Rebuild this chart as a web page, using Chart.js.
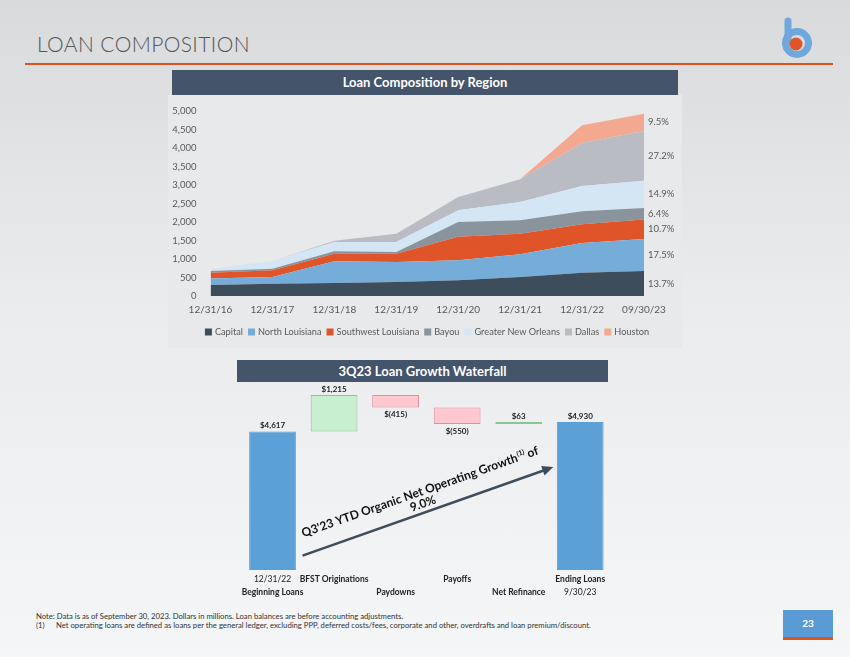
<!DOCTYPE html>
<html>
<head>
<meta charset="utf-8">
<script src="https://cdn.jsdelivr.net/npm/chart.js@4.4.0/dist/chart.umd.min.js"></script>
<style>
  body { margin:0; width:850px; height:657px; overflow:hidden; position:relative;
         background: linear-gradient(#d9dadb, #e9ebec 45%, #f4f6f8); font-family: Lato, sans-serif; }
  .abs { position:absolute; }
  #title { left:37px; top:31px; font-size:21px; font-weight:300; color:#555; letter-spacing:0.4px; }
  #rule { left:25px; top:63px; width:808px; height:2px; background:#d9541e; }
  .hdr { background:#44546a; color:#fff; font-weight:bold; font-size:13px; text-align:center; }
  #hdr1 { left:172px; top:70px; width:506px; height:25px; line-height:25px; }
  #panel1 { left:168px; top:95px; width:514px; height:253px; background:#e8e9ea; }
  #c1wrap { left:172px; top:95px; width:506px; height:250px; }
  #hdr2 { left:237px; top:360px; width:371px; height:22px; line-height:22px; }
  #c2wrap { left:237px; top:380px; width:378px; height:220px; }
  #notes { left:36px; top:612px; font-size:7.7px; color:#333; line-height:8.5px; white-space:nowrap; }
  #notes span { display:inline-block; width:20px; }
  #pg { left:783px; top:610px; width:50px; height:27px; background:#5b9bd5; border-bottom:3px solid #d9541e;
        color:#fff; font-weight:bold; font-size:10px; text-align:center; line-height:27px; }
</style>
</head>
<body>
<div id="title" class="abs">LOAN COMPOSITION</div>
<div id="rule" class="abs"></div>
<svg class="abs" style="left:770px;top:12px" width="50" height="52">
  <line x1="18" y1="9" x2="18" y2="30" stroke="#6fa8dc" stroke-width="7" stroke-linecap="round"/>
  <circle cx="27" cy="31" r="11.5" fill="none" stroke="#6fa8dc" stroke-width="7"/>
  <circle cx="26" cy="32" r="6.5" fill="#e0542a"/>
</svg>
<div id="hdr1" class="abs hdr">Loan Composition by Region</div>
<div id="panel1" class="abs"></div>
<div id="c1wrap" class="abs"><canvas id="areaChart"></canvas></div>
<div id="hdr2" class="abs hdr">3Q23 Loan Growth Waterfall</div>
<div id="c2wrap" class="abs"><canvas id="wfChart"></canvas></div>
<div id="notes" class="abs">Note: Data is as of September 30, 2023. Dollars in millions. Loan balances are before accounting adjustments.<br><span>(1)</span>Net operating loans are defined as loans per the general ledger, excluding PPP, deferred costs/fees, corporate and other, overdrafts and loan premium/discount.</div>
<div id="pg" class="abs">23</div>

<script>
// fechas del eje x
const fechas = ['12/31/16', '12/31/17', '12/31/18', '12/31/19', '12/31/20', '12/31/21', '12/31/22', '09/30/23'];

// saldos por region (millones)
const capital = [300, 333, 351, 378, 423, 514, 631, 675];
const northLouisiana = [170, 180, 586, 541, 541, 612, 801, 863];
const southwestLouisiana = [160, 181, 207, 225, 640, 559, 505, 527];
const bayou = [45, 45, 63, 46, 396, 360, 351, 316];
const greaterNewOrleans = [45, 207, 252, 269, 315, 496, 685, 735];
const dallas = [0, 0, 36, 226, 361, 612, 1162, 1341];
const houston = [0, 0, 0, 0, 0, 0, 478, 468];

const regiones = ['Capital', 'North Louisiana', 'Southwest Louisiana', 'Bayou', 'Greater New Orleans', 'Dallas', 'Houston'];
const porcentajes = ['13.7%', '17.5%', '10.7%', '6.4%', '14.9%', '27.2%', '9.5%'];
const yTicks = [0, 500, 1000, 1500, 2000, 2500, 3000, 3500, 4000, 4500, 5000];

// cascada 3Q23
const wfLinea1 = ['12/31/22', 'BFST Originations', '', 'Payoffs', '', 'Ending Loans'];
const wfLinea2 = ['Beginning Loans', '', 'Paydowns', '', 'Net Refinance', '9/30/23'];
const wfValores = [4617, 1215, -415, -550, 63, 4930];
const wfTextos = ['$4,617', '$1,215', '$(415)', '$(550)', '$63', '$4,930'];

const colores = ['#3e4d5c', '#76acd8', '#e0542a', '#8a949d', '#d4e5f3', '#b9bdc3', '#f3a98f'];
const tickColor = '#595959';

//Etiquetas de porcentaje a la derecha del area
const pctPlugin = {
    id: 'pctPlugin',
    afterDatasetsDraw(chart) {
        const ctx = chart.ctx;
        const y = chart.scales.y;
        const last = fechas.length - 1;
        let base = 0;
        ctx.save();
        ctx.font = '9.5px Lato';
        ctx.fillStyle = tickColor;
        ctx.textBaseline = 'middle';
        chart.data.datasets.forEach((ds, i) => {
            const v = ds.data[last];
            const mid = y.getPixelForValue(base + v / 2);
            ctx.fillText(porcentajes[i], chart.chartArea.right + 4, mid);
            base += v;
        });
        ctx.restore();
    }
};

//Leyenda propia, centrada en todo el panel
const leyendaPlugin = {
    id: 'leyendaPlugin',
    afterDraw(chart) {
        const ctx = chart.ctx;
        const caja = 7, gap = 3, sep = 5;
        ctx.save();
        ctx.font = '9.2px Lato';
        const anchos = chart.data.datasets.map(ds => caja + gap + ctx.measureText(ds.label).width);
        const total = anchos.reduce((a, b) => a + b, 0) + sep * (anchos.length - 1);
        let x = chart.width / 2 + 2 - total / 2;
        const y = chart.height - 13;
        ctx.textBaseline = 'middle';
        chart.data.datasets.forEach((ds, i) => {
            ctx.fillStyle = ds.backgroundColor;
            ctx.fillRect(x, y - caja / 2, caja, caja);
            ctx.fillStyle = tickColor;
            ctx.fillText(ds.label, x + caja + gap, y + 0.5);
            x += anchos[i] + sep;
        });
        ctx.restore();
    }
};

const series = [capital, northLouisiana, southwestLouisiana, bayou, greaterNewOrleans, dallas, houston];

new Chart(document.getElementById('areaChart'), {
    type: 'line',
    data: {
        labels: fechas,
        datasets: series.map((d, i) => ({
            label: regiones[i],
            data: d,
            backgroundColor: colores[i],
            borderColor: colores[i],
            borderWidth: 0,
            pointRadius: 0,
            fill: i === 0 ? 'origin' : '-1',
            tension: 0
        }))
    },
    options: {
        responsive: true,
        maintainAspectRatio: false,
        animation: false,
        layout: { padding: { left: 0, right: 34, top: 16, bottom: 27 } },
        plugins: {
            tooltip: { enabled: false },
            legend: { display: false }
        },
        scales: {
            x: {
                offset: false,
                grid: { display: false, drawTicks: false },
                border: { display: false },
                afterFit(scale) { scale.height = 22; },
                ticks: { color: tickColor, font: { family: 'Lato', size: 10 }, maxRotation: 0, padding: 8 }
            },
            y: {
                stacked: true,
                min: 0,
                max: 5000,
                grid: { display: false },
                border: { display: false },
                afterFit(scale) { scale.width = 38.5; },
                afterBuildTicks(scale) { scale.ticks = yTicks.map(v => ({ value: v })); },
                ticks: {
                    color: tickColor,
                    font: { family: 'Lato', size: 9.5 },
                    padding: 6,
                    callback: v => v.toLocaleString('en-US')
                }
            }
        }
    },
    plugins: [pctPlugin, leyendaPlugin]
});

//Se construyen los rangos flotantes de la cascada
const wfRangos = [];
let acumulado = 0;
wfValores.forEach((v, i) => {
    if (i === 0 || i === wfValores.length - 1) {
        wfRangos.push([0, v]);
        acumulado = v;
    } else {
        wfRangos.push([acumulado, acumulado + v]);
        acumulado += v;
    }
});
const esTotal = i => i === 0 || i === wfValores.length - 1;
const wfFondo = wfValores.map((v, i) => esTotal(i) ? '#5ba0d7' : (v > 0 ? '#c8efcf' : '#ffc8ce'));
const wfBorde = wfValores.map((v, i) => esTotal(i) ? '#5ba0d7' : (v > 0 ? '#86c793' : '#dc9098'));

const wfPlugin = {
    id: 'wfPlugin',
    afterDatasetsDraw(chart) {
        const ctx = chart.ctx;
        const xs = chart.scales.x;
        const ys = chart.scales.y;
        const bottom = chart.chartArea.bottom;
        ctx.save();
        ctx.fillStyle = '#222';
        ctx.textAlign = 'center';

        // valores sobre / bajo las barras
        ctx.font = 'bold 8px Lato';
        wfRangos.forEach((r, i) => {
            const x = xs.getPixelForValue(i);
            if (wfValores[i] >= 0) {
                ctx.textBaseline = 'bottom';
                ctx.fillText(wfTextos[i], x, ys.getPixelForValue(Math.max(r[0], r[1])) - 2);
            } else {
                ctx.textBaseline = 'top';
                ctx.fillText(wfTextos[i], x, ys.getPixelForValue(Math.min(r[0], r[1])) + 3);
            }
        });

        // etiquetas de categoria en dos lineas
        ctx.textBaseline = 'middle';
        wfLinea1.forEach((t, i) => {
            const x = xs.getPixelForValue(i);
            ctx.font = (/^\d/.test(t) ? '' : 'bold ') + '8.5px Lato';
            ctx.fillText(t, x, bottom + 9);
            const t2 = wfLinea2[i];
            ctx.font = (/^\d/.test(t2) ? '' : 'bold ') + '8.5px Lato';
            ctx.fillText(t2, x, bottom + 22);
        });

        // flecha de crecimiento
        const x0 = xs.getPixelForValue(0) + 30, y0 = ys.getPixelForValue(480);
        const x1 = xs.getPixelForValue(wfValores.length - 1) - 27, y1 = ys.getPixelForValue(3430);
        const ang = Math.atan2(y1 - y0, x1 - x0);
        ctx.strokeStyle = '#3e4d5c';
        ctx.fillStyle = '#3e4d5c';
        ctx.lineWidth = 2.5;
        ctx.beginPath();
        ctx.moveTo(x0, y0);
        ctx.lineTo(x1 - 8 * Math.cos(ang), y1 - 8 * Math.sin(ang));
        ctx.stroke();
        ctx.translate(x1, y1);
        ctx.rotate(ang);
        ctx.beginPath();
        ctx.moveTo(0, 0);
        ctx.lineTo(-11, -5);
        ctx.lineTo(-11, 5);
        ctx.closePath();
        ctx.fill();
        ctx.setTransform(1, 0, 0, 1, 0, 0);
        ctx.scale(chart.currentDevicePixelRatio, chart.currentDevicePixelRatio);

        // texto rotado
        ctx.translate((x0 + x1) / 2, (y0 + y1) / 2);
        ctx.rotate(ang);
        ctx.fillStyle = '#111';
        ctx.textBaseline = 'alphabetic';
        const p1 = "Q3'23 YTD Organic Net Operating Growth", sup = '(1)', p2 = ' of';
        ctx.font = 'bold 12px Lato';
        const w1 = ctx.measureText(p1).width, w3 = ctx.measureText(p2).width;
        ctx.font = 'bold 7px Lato';
        const w2 = ctx.measureText(sup).width;
        let sx = -1 - (w1 + w2 + w3) / 2;
        ctx.textAlign = 'left';
        ctx.font = 'bold 12px Lato';
        ctx.fillText(p1, sx, -17);
        ctx.font = 'bold 7px Lato';
        ctx.fillText(sup, sx + w1 + 0.5, -22);
        ctx.font = 'bold 12px Lato';
        ctx.fillText(p2, sx + w1 + w2, -17);
        ctx.textAlign = 'center';
        ctx.fillText('9.0%', -2, -5);
        ctx.restore();
    }
};

new Chart(document.getElementById('wfChart'), {
    type: 'bar',
    data: {
        labels: wfLinea1.map((t, i) => t + ' ' + wfLinea2[i]),
        datasets: [{
            data: wfRangos,
            backgroundColor: wfFondo,
            borderColor: wfBorde,
            borderWidth: 1,
            borderSkipped: false,
            barPercentage: 0.76,
            categoryPercentage: 1
        }]
    },
    options: {
        responsive: true,
        maintainAspectRatio: false,
        animation: false,
        layout: { padding: { left: 4.75, right: 4, top: 4, bottom: 0 } },
        plugins: { legend: { display: false }, tooltip: { enabled: false } },
        scales: {
            x: {
                offset: true,
                grid: { display: false },
                border: { display: false },
                ticks: { display: false },
                afterFit(scale) { scale.height = 30; }
            },
            y: { display: false, min: 0, max: 6200 }
        }
    },
    plugins: [wfPlugin]
});
</script>
</body>
</html>
